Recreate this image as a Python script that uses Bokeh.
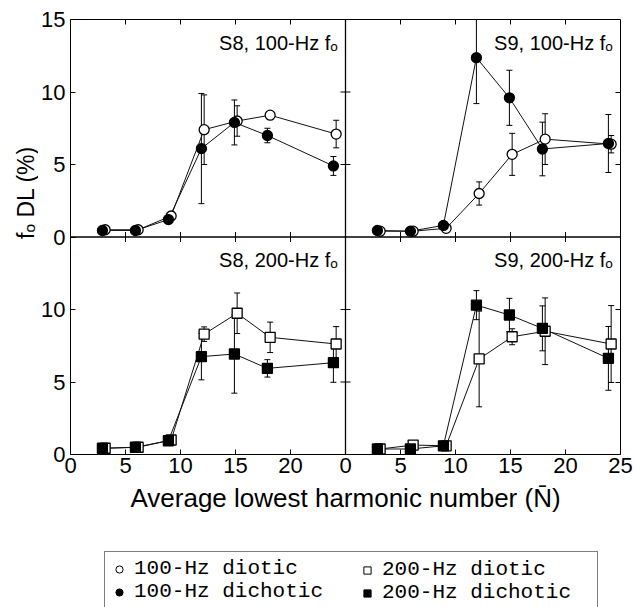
import numpy as np
from bokeh.plotting import figure
from bokeh.models import (ColumnDataSource, Range1d, FixedTicker, LinearAxis,
                          Label, Legend, LegendItem, Span)
from bokeh.layouts import column, row
from bokeh.embed import file_html
from bokeh.resources import INLINE
from bokeh.transform import dodge

# ---------------- data ----------------
N = [3, 6, 9, 12, 15, 18, 24]

s8_100_diotic = [0.5, 0.5, 1.45, 7.4, 8.0, 8.4, 7.1]
s8_100_diotic_err = [0.1, 0.1, 0.3, 2.4, 1.05, 0.15, 0.95]
s8_100_dichotic = [0.45, 0.45, 1.2, 6.1, 7.9, 7.0, 4.9]
s8_100_dichotic_err = [0.08, 0.08, 0.2, 3.8, 1.55, 0.5, 0.65]

s9_100_diotic = [0.4, 0.4, 0.6, 3.0, 5.7, 6.75, 6.4]
s9_100_diotic_err = [0.08, 0.08, 0.1, 0.8, 1.45, 1.75, 0.6]
s9_100_dichotic = [0.45, 0.4, 0.8, 12.37, 9.6, 6.07, 6.45]
s9_100_dichotic_err = [0.08, 0.08, 0.1, 3.17, 1.9, 1.85, 2.0]

s8_200_diotic = [0.43, 0.5, 1.0, 8.3, 9.74, 8.08, 7.62]
s8_200_diotic_err = [0.08, 0.1, 0.15, 0.5, 1.4, 1.05, 1.2]
s8_200_dichotic = [0.43, 0.5, 0.95, 6.75, 6.93, 5.94, 6.33]
s8_200_dichotic_err = [0.08, 0.1, 0.15, 1.6, 2.7, 0.6, 1.35]

s9_200_diotic = [0.38, 0.65, 0.6, 6.59, 8.12, 8.5, 7.62]
s9_200_diotic_err = [0.08, 0.1, 0.1, 3.3, 0.55, 2.3, 2.65]
s9_200_dichotic = [0.38, 0.38, 0.6, 10.3, 9.62, 8.7, 6.63]
s9_200_dichotic_err = [0.08, 0.08, 0.1, 1.0, 1.15, 1.55, 2.2]

x_ticks_left = [0, 5, 10, 15, 20]
x_ticks_right = [0, 5, 10, 15, 20, 25]
y_ticks_top = [0, 5, 10, 15]
y_ticks_bottom = [0, 5, 10]

titles = ["S8, 100-Hz f\u2092", "S9, 100-Hz f\u2092",
          "S8, 200-Hz f\u2092", "S9, 200-Hz f\u2092"]
legend_labels = ["100-Hz diotic", "100-Hz dichotic",
                 "200-Hz diotic", "200-Hz dichotic"]
x_title = "Average lowest harmonic number (N\u0304)"
y_title = "f\u2092 DL (%)"

FONT = "Liberation Sans"
OPEN_OFF = 0.15
FILL_OFF = -0.1
XSPAN = 25   # each panel spans 0..25
YSPAN = 15   # each panel spans 0..15

# ---------------- main figure: 2x2 panels in one frame ----------------
p = figure(frame_width=550, frame_height=435,
           x_range=Range1d(0, 2 * XSPAN), y_range=Range1d(0, 2 * YSPAN),
           output_backend="svg", toolbar_location=None,
           x_axis_location=None, y_axis_location=None,
           min_border_left=32, min_border_right=13,
           min_border_top=19, min_border_bottom=30)
p.grid.visible = False
p.outline_line_color = "black"
p.outline_line_width = 1
p.background_fill_color = "white"
p.extra_x_ranges = {"L": Range1d(0, 2 * XSPAN), "R": Range1d(-XSPAN, XSPAN)}
p.extra_y_ranges = {"T": Range1d(-YSPAN, YSPAN), "B": Range1d(0, 2 * YSPAN)}


def make_axis(ticks, overrides=None, labeled=True, is_x=True):
    a = LinearAxis(ticker=FixedTicker(ticks=ticks), axis_line_color=None,
                   major_tick_in=5, major_tick_out=0,
                   minor_tick_line_color=None,
                   major_tick_line_color="black", major_tick_line_width=1)
    if labeled:
        a.major_label_text_font = FONT
        a.major_label_text_font_size = "22px"
        a.major_label_text_color = "black"
        a.major_label_standoff = 3 if is_x else 5
        a.major_label_overrides = overrides or {}
    else:
        a.major_label_text_font_size = "0px"
        a.major_label_text_color = None
        a.major_label_standoff = 0
    return a


# bottom axis: left panel labels then right panel labels
bx_ticks = list(x_ticks_left) + [XSPAN + t for t in x_ticks_right]
bx_over = {t: str(t) for t in x_ticks_left}
bx_over.update({XSPAN + t: str(t) for t in x_ticks_right})
p.add_layout(make_axis(bx_ticks, bx_over, True, True), "below")

# left axis: bottom panel labels then top panel labels
ly_ticks = list(y_ticks_bottom) + [YSPAN + t for t in y_ticks_top]
ly_over = {t: str(t) for t in y_ticks_bottom}
ly_over.update({YSPAN + t: str(t) for t in y_ticks_top})
p.add_layout(make_axis(ly_ticks, ly_over, True, False), "left")

inner_x = [t for t in x_ticks_left if 0 < t < XSPAN]
inner_y = [t for t in y_ticks_bottom if 0 < t < YSPAN]
top_ticks = inner_x + [XSPAN + t for t in inner_x]
right_ticks = inner_y + [YSPAN + t for t in inner_y]
p.add_layout(make_axis(top_ticks, labeled=False, is_x=True), "above")
p.add_layout(make_axis(right_ticks, labeled=False, is_x=False), "right")

# panel dividers with their inward ticks on both sides
p.add_layout(Span(location=XSPAN, dimension="height", line_color="black",
                  line_width=1.3))
p.add_layout(Span(location=YSPAN, dimension="width", line_color="black",
                  line_width=1.3))
p.scatter(x=top_ticks, y=[YSPAN] * len(top_ticks), marker="dash", size=10,
          angle=np.pi / 2, line_color="black", line_width=1)
p.scatter(x=[XSPAN] * len(right_ticks), y=right_ticks, marker="dash", size=10,
          line_color="black", line_width=1)


def panel(xr, yr, title, open_vals, open_err, fill_vals, fill_err, marker):
    kw = dict(x_range_name=xr, y_range_name=yr)
    srcs = []
    for vals, errs, off in ((open_vals, open_err, OPEN_OFF),
                            (fill_vals, fill_err, FILL_OFF)):
        src = ColumnDataSource(dict(
            N=N, v=vals,
            lo=[v - e for v, e in zip(vals, errs)],
            hi=[v + e for v, e in zip(vals, errs)]))
        xs = dodge("N", off)
        p.segment(x0=xs, y0="lo", x1=xs, y1="hi", source=src,
                  line_color="black", line_width=1, **kw)
        p.scatter(x=xs, y="hi", source=src, marker="dash", size=6,
                  line_color="black", line_width=1, **kw)
        p.scatter(x=xs, y="lo", source=src, marker="dash", size=6,
                  line_color="black", line_width=1, **kw)
        srcs.append((src, xs))
    for src, xs in srcs:
        p.line(x=xs, y="v", source=src, line_color="#111111", line_width=1, **kw)
    (so, xo), (sf, xf) = srcs
    p.scatter(x=xo, y="v", source=so, marker=marker, size=10,
              fill_color="white", line_color="black", line_width=1.3, **kw)
    p.scatter(x=xf, y="v", source=sf, marker=marker, size=10,
              fill_color="black", line_color="black", line_width=1.3, **kw)
    p.add_layout(Label(x=24.3, y=13.4, text=title, text_align="right",
                       text_baseline="middle", text_font=FONT,
                       text_font_size="20px", text_color="black", **kw))


panel("L", "T", titles[0], s8_100_diotic, s8_100_diotic_err,
      s8_100_dichotic, s8_100_dichotic_err, "circle")
panel("R", "T", titles[1], s9_100_diotic, s9_100_diotic_err,
      s9_100_dichotic, s9_100_dichotic_err, "circle")
panel("L", "B", titles[2], s8_200_diotic, s8_200_diotic_err,
      s8_200_dichotic, s8_200_dichotic_err, "square")
panel("R", "B", titles[3], s9_200_diotic, s9_200_diotic_err,
      s9_200_dichotic, s9_200_dichotic_err, "square")

# ---------------- y-axis title column ----------------
yt = figure(width=38, height=484, output_backend="svg", toolbar_location=None,
            x_axis_location=None, y_axis_location=None, min_border=0,
            x_range=Range1d(0, 1), y_range=Range1d(0, 1))
yt.grid.visible = False
yt.outline_line_color = None
yt.add_layout(Label(x=25, y=262, x_units="screen", y_units="screen",
                    text=y_title, angle=np.pi / 2, text_align="center",
                    text_baseline="middle", text_font=FONT,
                    text_font_size="23px", text_color="black"))

# ---------------- bottom strip with x title and legend ----------------
s = figure(width=633, height=123, output_backend="svg", toolbar_location=None,
           x_axis_location=None, y_axis_location=None, min_border=0,
           x_range=Range1d(0, 1), y_range=Range1d(0, 1))
s.grid.visible = False
s.outline_line_color = None
s.add_layout(Label(x=345, y=110, x_units="screen", y_units="screen",
                   text=x_title, text_align="center", text_baseline="middle",
                   text_font=FONT, text_font_size="26px", text_color="black"))

nan = [np.nan]
r_oc = s.scatter(x=nan, y=nan, marker="circle", fill_color="white",
                 line_color="black", line_width=1)
r_fc = s.scatter(x=nan, y=nan, marker="circle", fill_color="black",
                 line_color="black", line_width=1)
r_os = s.scatter(x=nan, y=nan, marker="square", fill_color="white",
                 line_color="black", line_width=1)
r_fs = s.scatter(x=nan, y=nan, marker="square", fill_color="black",
                 line_color="black", line_width=1)

common = dict(spacing=0, glyph_width=18, glyph_height=18,
              label_standoff=6, label_height=18, margin=0,
              label_text_font="Liberation Mono", label_text_font_size="21px",
              label_text_color="black")
legA = Legend(items=[LegendItem(label=legend_labels[0], renderers=[r_oc]),
                     LegendItem(label=legend_labels[1], renderers=[r_fc])],
              location=(104, -2), padding=5, label_width=458,
              border_line_color="black", border_line_width=1,
              background_fill_color="white", background_fill_alpha=1.0,
              **common)
legB = Legend(items=[LegendItem(label=legend_labels[2], renderers=[r_os]),
                     LegendItem(label=legend_labels[3], renderers=[r_fs])],
              location=(358, 3), padding=0, border_line_color=None,
              background_fill_alpha=0.0, **common)
s.add_layout(legA)
s.add_layout(legB)

layout = column(row(yt, p), s)

open("out.html", "w").write(file_html(layout, INLINE))
